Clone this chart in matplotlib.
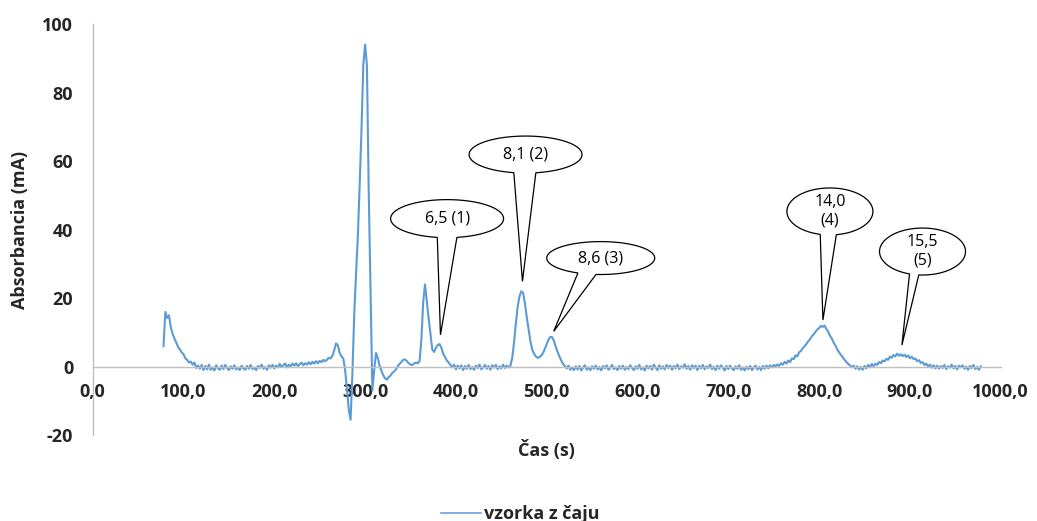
import numpy as np
import matplotlib
matplotlib.use('Agg')
import matplotlib.pyplot as plt
from matplotlib.patches import Polygon

plt.rcParams['font.family'] = ['Open Sans', 'DejaVu Sans']
plt.rcParams['axes.unicode_minus'] = False

# čas záznamu (s), vzorkovanie každé 2 s
cas_s = np.arange(78, 980, 2)

# absorbancia (mA) vzorky čaju
absorbancia = [
    6.0, 16.0, 14.2, 15.0, 11.5, 9.6, 8.2, 7.0, 5.8, 5.0,
    4.2, 3.6, 2.4, 2.0, 1.2, 1.5, 0.6, 1.2, -0.4, 0.3,
    -0.6, 0.5, -1.0, 0.2, -0.8, 0.6, -0.9, -0.2, -1.1, 0.4,
    -0.5, -0.9, 0.3, -0.7, 0.5, -0.4, -1.0, 0.1, -0.6, 0.4,
    -0.8, -0.2, -1.0, 0.3, -0.5, -0.9, 0.2, -0.6, 0.5, -0.7,
    -0.3, -1.0, 0.2, -0.4, 0.6, -0.6, -0.1, -0.9, 0.4, -0.3,
    0.5, -0.5, 0.3, -0.2, 0.8, -0.1, 0.4, 0.9, -0.2, 0.6,
    0.1, 0.9, 0.3, 1.0, 0.2, 0.7, 1.2, 0.4, 1.0, 0.6,
    1.3, 0.7, 1.4, 0.9, 1.6, 1.0, 1.7, 1.3, 2.0, 1.6,
    2.0, 2.6, 2.4, 3.2, 4.8, 6.8, 6.2, 4.0, 3.0, 2.4,
    -1.0, -6.5, -12.5, -15.5, -2.0, 15.0, 27.0, 38.0, 53.0, 69.0,
    88.0, 94.0, 88.0, 51.0, 22.0, -7.0, -1.0, 4.0, 2.5, 0.3,
    -1.2, -2.5, -3.4, -3.8, -3.0, -2.6, -1.8, -1.4, -0.8, 0.2,
    0.8, 1.4, 2.0, 2.1, 1.6, 1.0, 0.6, 0.5, 0.9, 1.2,
    1.0, 1.6, 8.0, 19.0, 24.0, 19.0, 14.0, 9.5, 5.0, 4.3,
    5.5, 6.3, 6.6, 5.5, 3.8, 2.8, 1.8, 1.2, 0.5, -0.2,
    0.6, -0.8, 0.3, -0.5, 0.4, -1.0, 0.2, -0.6, 0.5, -0.7,
    -0.1, -0.9, 0.3, -0.4, 0.6, -0.8, -0.2, 0.5, -0.6, 0.2,
    -0.9, 0.4, -0.3, 0.5, -0.7, 0.1, -0.5, 0.6, -0.4, 0.3,
    -0.2, 0.2, 2.5, 7.0, 12.5, 17.5, 20.5, 22.0, 21.5, 18.5,
    14.5, 11.0, 7.5, 5.0, 3.8, 3.0, 2.6, 2.8, 3.2, 4.0,
    5.2, 6.6, 7.9, 8.7, 8.6, 7.5, 5.8, 4.3, 3.0, 1.8,
    0.8, 0.2, -0.5, 0.3, -0.9, -0.2, -1.0, 0.1, -0.8, 0.2,
    -1.1, -0.3, 0.4, -0.9, -0.2, -1.0, 0.1, -0.6, 0.3, -0.8,
    -0.1, -1.1, 0.2, -0.5, 0.4, -0.9, -0.3, 0.5, -0.7, -0.2,
    -1.0, 0.2, -0.6, 0.3, -0.9, -0.1, -0.7, 0.4, -0.4, -1.0,
    0.1, -0.6, 0.5, -0.8, -0.2, -1.1, 0.3, -0.5, 0.2, -0.9,
    0.6, -0.3, -1.0, 0.4, -0.6, 0.1, -0.8, 0.5, -0.4, 0.3,
    -0.9, 0.2, -0.5, 0.6, -0.7, 0.1, -0.3, 0.7, -0.6, 0.2,
    -0.9, 0.4, -0.4, 0.3, -1.0, 0.2, -0.5, 0.5, -0.8, 0.1,
    -0.4, 0.6, -0.7, 0.0, -1.0, 0.3, -0.6, 0.4, -0.3, -1.1,
    0.2, -0.7, 0.3, -0.5, -1.0, 0.1, -0.6, 0.4, -0.9, -0.2,
    -1.1, 0.0, -0.7, 0.2, -1.0, -0.3, 0.3, -0.8, -0.1, -1.0,
    0.2, -0.6, 0.3, -0.5, 0.4, -0.2, 0.5, 0.1, 0.6, 0.2,
    1.0, 0.6, 1.4, 0.9, 1.8, 1.3, 2.4, 2.2, 3.3, 3.0,
    4.2, 4.6, 5.4, 6.0, 6.6, 7.4, 8.0, 8.9, 9.4, 10.2,
    10.8, 11.3, 11.9, 11.6, 12.0, 11.0, 10.2, 9.0, 8.2, 7.0,
    6.2, 5.0, 4.2, 3.4, 2.8, 2.0, 1.4, 0.8, 0.4, -0.2,
    0.3, -0.6, 0.1, -0.8, -0.1, -0.9, 0.2, -0.5, 0.5, -0.2,
    0.8, 0.1, 0.9, 0.5, 1.4, 1.0, 1.8, 1.5, 2.3, 2.0,
    2.9, 2.6, 3.4, 3.0, 3.8, 3.2, 3.6, 3.1, 3.5, 2.8,
    3.3, 2.5, 2.9, 2.2, 2.4, 1.6, 1.9, 1.1, 1.3, 0.5,
    0.9, 0.1, 0.6, -0.3, 0.4, -0.5, 0.3, -0.6, 0.2, -0.4,
    0.5, -0.7, 0.1, -0.3, 0.6, -0.5, 0.2, -0.8, 0.3, -0.2,
    0.4, -0.6, 0.0, -0.9, 0.2, -0.4, 0.5, -0.7, -0.1, -0.9,
    0.1,
]

x_ticks = [0, 100, 200, 300, 400, 500, 600, 700, 800, 900, 1000]
x_tick_labels = ['0,0', '100,0', '200,0', '300,0', '400,0', '500,0',
                 '600,0', '700,0', '800,0', '900,0', '1000,0']
y_ticks = [-20, 0, 20, 40, 60, 80, 100]

# popisky píkov: retenčný čas (min) a číslo píku
pik_texty = ['6,5 (1)', '8,1 (2)', '8,6 (3)', '14,0\n(4)', '15,5\n(5)']

# bubliny: stred, šírka, výška, uhly napojenia hrotu, hrot (v súradniciach grafu)
bubliny_stred = [(390.3, 43.2), (476.7, 61.9), (559.5, 31.7), (811.9, 45.3), (913.9, 33.6)]
bubliny_rozmer = [(124.4, 11.1), (124.4, 10.8), (118.9, 9.6), (94.7, 13.7), (94.7, 13.7)]
bubliny_uhly = [(260, 280), (258, 280.5), (245, 265), (257, 278.6), (252.4, 265)]
bubliny_hrot = [(383.0, 9.3), (473.3, 24.9), (507.7, 10.3), (804.2, 13.6), (891.2, 6.3)]

farba_ciary = '#5B9BD5'
farba_osi = '#BFBFBF'
farba_textu = '#262626'


def bublina(ax, stred, rozmer, uhly, hrot, text):
    """Oválna bublina s hrotom smerujúcim na pík."""
    cx, cy = stred
    a, b = rozmer[0] / 2, rozmer[1] / 2
    t1, t2 = uhly
    t = np.radians(np.linspace(t2, t1 + 360, 200))
    body = list(zip(cx + a * np.cos(t), cy + b * np.sin(t)))
    body.append(hrot)
    ax.add_patch(Polygon(body, closed=True, facecolor='white', edgecolor='black',
                         linewidth=0.9, zorder=5))
    ax.text(cx, cy, text, ha='center', va='center', fontsize=11.5, color='black',
            linespacing=1.2, zorder=6)


fig = plt.figure(figsize=(10.37, 5.21), dpi=100)
ax = fig.add_axes([0.0894, 0.1647, 0.8756, 0.7892])

line, = ax.plot(cas_s, absorbancia, color=farba_ciary, linewidth=1.5, label='vzorka z čaju')

ax.set_xlim(0, 1000)
ax.set_ylim(-20, 100)
ax.set_xticks(x_ticks)
ax.set_xticklabels(x_tick_labels)
ax.set_yticks(y_ticks)

# os x prechádza nulou
ax.spines['bottom'].set_position(('data', 0))
for s in ['top', 'right']:
    ax.spines[s].set_visible(False)
for s in ['left', 'bottom']:
    ax.spines[s].set_color(farba_osi)
    ax.spines[s].set_linewidth(1.0)

ax.tick_params(axis='both', length=0, labelsize=13, labelcolor=farba_textu)
ax.tick_params(axis='x', pad=12)
ax.tick_params(axis='y', pad=14)
for lbl in ax.get_xticklabels() + ax.get_yticklabels():
    lbl.set_fontweight('bold')

ax.set_xlabel('Čas (s)', fontsize=13, fontweight='bold', color=farba_textu)
ax.xaxis.set_label_coords(0.5, -0.012)
ax.set_ylabel('Absorbancia (mA)', fontsize=13, fontweight='bold', color=farba_textu)
ax.yaxis.set_label_coords(-0.070, 0.5)

for i in range(len(pik_texty)):
    bublina(ax, bubliny_stred[i], bubliny_rozmer[i], bubliny_uhly[i], bubliny_hrot[i], pik_texty[i])

leg = fig.legend(handles=[line], loc='center', bbox_to_anchor=(0.502, 0.0134), frameon=False,
                 handlelength=2.2, handletextpad=0.2,
                 prop={'size': 13, 'weight': 'bold'})
for t in leg.get_texts():
    t.set_color(farba_textu)
for h in leg.legend_handles:
    h.set_linewidth(1.1)

fig.savefig('out.png', dpi=100)
